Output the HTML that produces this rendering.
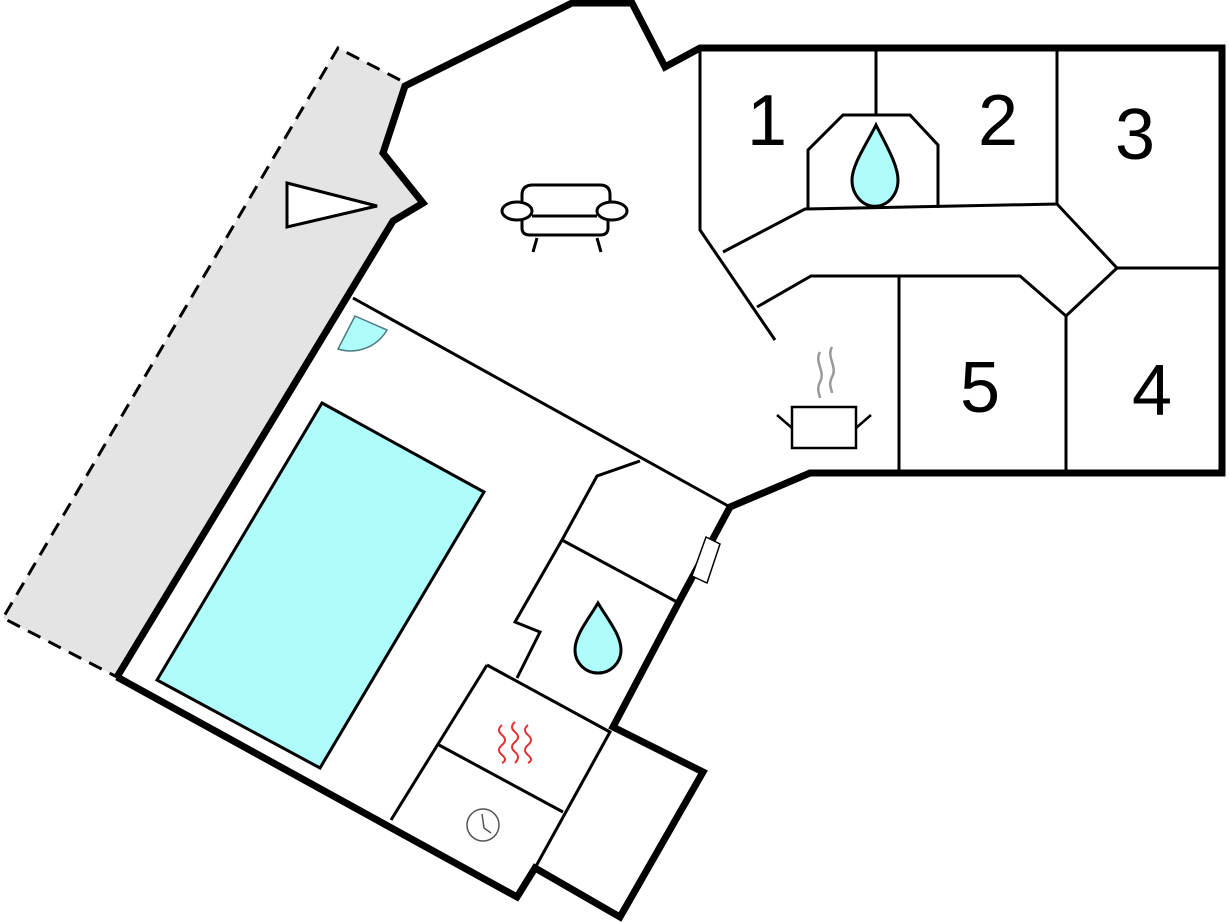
<!DOCTYPE html>
<html><head><meta charset="utf-8"><style>
html,body{margin:0;padding:0;background:#fff;}
svg{display:block;}
</style></head><body>
<svg width="1229" height="922" viewBox="0 0 1229 922" xmlns="http://www.w3.org/2000/svg">
<!-- terrace -->
<polygon points="338,48 400,80 405,86 383,153 423,203 393,221 117,677 3,618" fill="#e4e4e4"/>
<polyline points="400,80 338,48 3,618 117,677" fill="none" stroke="#000" stroke-width="3" stroke-dasharray="14,9"/>
<polygon points="287,183 377,206 287,227" fill="#fff" stroke="#000" stroke-width="3"/>
<!-- pool -->
<polygon points="322,403 484,492 320,768 157,680" fill="#aefcfc" stroke="#000" stroke-width="3"/>
<!-- door -->
<path d="M355,316 L387,330 A42,42 0 0 1 338,349 Z" fill="#aefcfc" stroke="#4a7a80" stroke-width="1.5"/>
<!-- thin interior walls -->
<g fill="none" stroke="#000" stroke-width="3" stroke-linejoin="miter">
<line x1="353" y1="298" x2="730" y2="507"/>
<polyline points="640,461 597,476 562,540 515,622 540,632 517,678"/>
<line x1="562" y1="540" x2="677" y2="602"/>
<polyline points="487,665 610,732 535,868"/>
<line x1="487" y1="665" x2="391" y2="820"/>
<line x1="439" y1="745" x2="563" y2="812"/>
<!-- right block -->
<polyline points="700,48 700,230 775,340"/>
<polyline points="723,252 805,209 1057,204 1117,268 1222,268"/>
<polyline points="757,307 811,276 1020,276 1066,316 1117,268"/>
<line x1="876" y1="48" x2="876" y2="115"/>
<polyline points="808,209 808,150 843,115 910,115 938,145 938,208"/>
<line x1="1057" y1="48" x2="1057" y2="204"/>
<line x1="899" y1="276" x2="899" y2="473"/>
<line x1="1066" y1="316" x2="1066" y2="473"/>
</g>
<!-- outer walls -->
<polyline points="117,677 393,221 423,203 383,153 405,86 572,3 632,3 665,67 700,48 1222,48 1222,473 810,473 730,507 680,600 613,727 703,772 620,917 535,868 517,897 117,677" fill="none" stroke="#000" stroke-width="7" stroke-linejoin="miter"/>
<!-- window -->
<polygon points="706,537 720,544 707,583 692,576" fill="#fff" stroke="#000" stroke-width="1.5"/>
<!-- drops -->
<path d="M876,125 C866,145 852,165 852,180 A14,16 0 0 0 898,180 C898,165 886,145 876,125 Z" fill="#aefcfc" stroke="#000" stroke-width="3"/>
<path d="M598,603 C588,620 575,635 575,650 A23,23 0 0 0 621,650 C621,635 608,620 598,603 Z" fill="#aefcfc" stroke="#000" stroke-width="3"/>
<!-- sofa -->
<g fill="none" stroke="#000" stroke-width="3">
<path d="M522,203 L522,195 Q522,185 533,185 L600,185 Q610,185 610,195 L610,203"/>
<ellipse cx="517" cy="211" rx="15" ry="9" fill="#fff"/>
<ellipse cx="612" cy="211" rx="15" ry="9" fill="#fff"/>
<line x1="532" y1="216" x2="597" y2="216"/>
<path d="M522,220 L522,228 Q522,235 530,235 L600,235 Q608,235 608,228 L608,220"/>
<line x1="537" y1="238" x2="533" y2="252"/>
<line x1="597" y1="238" x2="601" y2="252"/>
</g>
<!-- pot -->
<g fill="none" stroke="#000" stroke-width="2.5">
<rect x="792" y="407" width="64" height="41" fill="#fff"/>
<line x1="777" y1="415" x2="792" y2="428"/>
<line x1="871" y1="415" x2="856" y2="428"/>
</g>
<g fill="none" stroke="#999" stroke-width="2.5">
<path d="M820,352 C814,362 826,372 820,382 C816,390 820,395 820,398"/>
<path d="M832,347 C826,357 838,367 832,377 C828,385 832,390 832,393"/>
</g>
<!-- heat waves -->
<g fill="none" stroke="#e03030" stroke-width="2">
<path d="M502,725 q-6,5 0,10 q6,5 0,10 q-6,5 0,10 q6,5 0,8"/>
<path d="M515,722 q-6,5 0,10 q6,5 0,10 q-6,5 0,10 q6,5 0,11"/>
<path d="M528,725 q-6,5 0,10 q6,5 0,10 q-6,5 0,10 q6,5 0,8"/>
</g>
<!-- clock -->
<circle cx="483" cy="825" r="16" fill="#fff" stroke="#555" stroke-width="1.5"/>
<polyline points="482,814 484,828 491,833" fill="none" stroke="#555" stroke-width="1.5"/>
<!-- numbers -->
<g font-family="Liberation Sans, sans-serif" font-size="72" fill="#000" text-anchor="middle">
<text x="767" y="145">1</text>
<text x="998" y="145">2</text>
<text x="1135" y="159">3</text>
<text x="980" y="412">5</text>
<text x="1152" y="415">4</text>
</g>
</svg>
</body></html>
